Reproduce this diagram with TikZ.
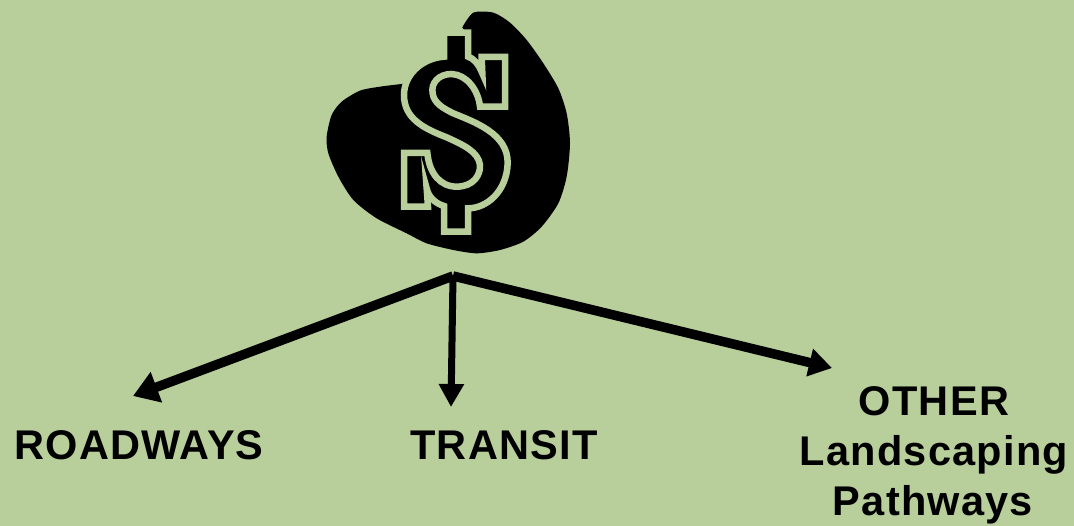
\documentclass[tikz,border=0pt]{standalone}
\usepackage{fontspec}
\setmainfont[LetterSpace=3.0]{Liberation Sans}
\usetikzlibrary{arrows.meta}
\definecolor{bgcol}{HTML}{B8CF9B}
\tikzset{
 lbl/.style={font=\fontsize{41.5}{50}\selectfont\bfseries,inner sep=0pt,anchor=base,text=black},
 arw/.style={line width=#1,draw=black},
 arw/.default=8pt,
}
\begin{document}
\begin{tikzpicture}[x=1pt,y=-1pt]
\fill[bgcol] (0,0) rectangle (1074,526);
\useasboundingbox (0,0) rectangle (1074,526);
\begin{scope}[x=0.33333pt,y=-0.33333pt,shift={(310pt,0pt)}]
\fill[black] plot[smooth,tension=0.45] coordinates {
 (457,82)(490,38)(550,38)(600,68)(650,120)(700,190)(745,265)(770,340)(780,430)(770,530)(745,610)(695,680)(640,725)(570,750)(500,760)(430,750)(350,730)(290,700)(200,655)(130,600)(85,530)(55,460)(50,410)(65,345)(95,305)(150,272)(210,260)(275,252)} -- (420,200) -- (474,110) -- cycle;
\fill[black,draw=bgcol,line width=6.5pt,line join=miter]
 (402,98) -- (474,98) -- (474,170) .. controls (490,175) and (505,190) .. (517,220)
 -- (515,171) -- (585,171) -- (585,320) -- (510,320)
 .. controls (505,270) and (470,224) .. (425,222)
 .. controls (385,222) and (362,250) .. (368,280)
 .. controls (372,310) and (400,325) .. (430,340)
 .. controls (490,365) and (595,400) .. (593,490)
 .. controls (590,575) and (530,625) .. (474,625)
 -- (474,695) -- (402,695) -- (402,618)
 .. controls (375,610) and (355,590) .. (350,565)
 -- (354,620) -- (282,620) -- (282,459) -- (352,459)
 .. controls (358,520) and (390,560) .. (440,560)
 .. controls (490,560) and (512,525) .. (510,495)
 .. controls (505,455) and (460,435) .. (410,412)
 .. controls (340,385) and (282,355) .. (282,285)
 .. controls (282,225) and (335,175) .. (402,170) -- cycle;
\end{scope}
\coordinate (hub) at (453,276);
\coordinate (tipa) at (133,396);
\coordinate (tipb) at (451,407);
\coordinate (tipc) at (832,368);
\draw[arw=9.5pt,-{Triangle[length=25pt,width=31pt]}] (hub) -- (tipa);
\draw[arw=7pt,-{Triangle[length=23pt,width=24pt]}] (hub) -- (tipb);
\draw[arw=9.5pt,-{Triangle[length=23pt,width=27pt]}] (hub) -- (tipc);
\node[lbl] (roadways) at (139,460) {ROADWAYS};
\node[lbl] (transit) at (504,460) {TRANSIT};
\node[lbl] (other) at (934,416) {OTHER};
\node[lbl] (landscaping) at (934,465) {Landscaping};
\node[lbl] (pathways) at (933,515) {Pathways};
\end{tikzpicture}
\end{document}
